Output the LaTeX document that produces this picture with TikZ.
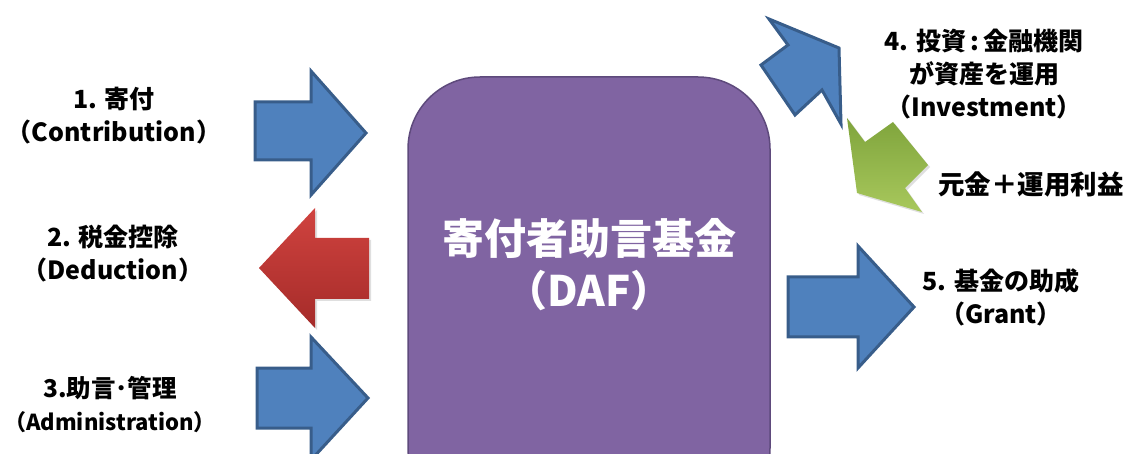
\documentclass[tikz,border=0pt]{standalone}
\usepackage{fontspec}
\setmainfont{Noto Sans CJK JP}
\usetikzlibrary{shadows}
\definecolor{daf}{HTML}{8064A2}
\definecolor{dafb}{HTML}{5E4A7C}
\definecolor{bluef}{HTML}{4F81BD}
\definecolor{blueb}{HTML}{385D8A}
\definecolor{redt}{HTML}{D0433F}
\definecolor{redb}{HTML}{A52B29}
\definecolor{greent}{HTML}{7FA43C}
\definecolor{greenb}{HTML}{A8C85C}
\tikzset{
  lbl/.style={font=\fontsize{25}{33}\selectfont\bfseries, align=center, text=black, inner sep=0pt},
  bluearrow/.style={fill=bluef, draw=blueb, line width=3pt, line join=miter},
  title/.style={font=\fontsize{42}{52}\selectfont\bfseries, text=white, align=center, inner sep=0pt}
}
\begin{document}
\begin{tikzpicture}[x=1pt,y=-1pt]
\useasboundingbox (0,0) rectangle (1130,454);
\begin{scope}
\clip (0,0) rectangle (1130,454);
% central box
\draw[fill=daf, draw=dafb, line width=1.5pt, rounded corners=72pt] (408,77) rectangle (770,520);
% arrow 1
\draw[bluearrow] (255,102) -- (311,102) -- (311,71) -- (366,133) -- (311,195) -- (311,160) -- (255,160) -- cycle;
% arrow 3
\draw[bluearrow] (257,368) -- (311,368) -- (311,337) -- (368,398) -- (311,460) -- (311,428) -- (257,428) -- cycle;
% arrow 5
\draw[bluearrow] (788,277) -- (858,277) -- (858,246) -- (914,307) -- (858,368) -- (858,337) -- (788,337) -- cycle;
% arrow 4 (up-right)
\draw[bluearrow] (769,19) -- (839,48) -- (841,124) -- (822,90) -- (795,115) -- (761,65) -- (788,45) -- cycle;
% red arrow 2 (left)
\shade[top color=redt, bottom color=redb, drop shadow={opacity=0.25, shadow xshift=2pt, shadow yshift=-2pt}]
  (369,238) -- (315,238) -- (315,208) -- (259,268) -- (315,328) -- (315,299) -- (369,299) -- cycle;
% green arrow (down-left)
\shade[shading angle=135, top color=greent, bottom color=greenb, drop shadow={opacity=0.25, shadow xshift=2pt, shadow yshift=-2pt}]
  (847,118) -- (865,142) -- (893,122) -- (928,165) -- (905,188) -- (922,212) -- (857,193) -- cycle;
\end{scope}
% labels
\node[lbl] (l1) at (114,116) {1. 寄付\\（Contribution）};
\node[lbl] (l2) at (113,254) {2. 税金控除\\（Deduction）};
\node[lbl] (l3) at (110,405) {\fontsize{24.5}{33}\selectfont 3.助言･管理\\\fontsize{22}{33}\selectfont（Administration）};
\node[lbl] (l4) at (984,74) {4. 投資\,:\,金融機関\\が資産を運用\\（Investment）};
\node[lbl, font=\fontsize{26.5}{33}\selectfont\bfseries] (l6) at (1031,184) {元金＋運用利益};
\node[lbl] (l5) at (1001,297) {5. 基金の助成\\（Grant）};
\node[title] (daf) at (589,265) {寄付者助言基金\\（DAF）};
\end{tikzpicture}
\end{document}
